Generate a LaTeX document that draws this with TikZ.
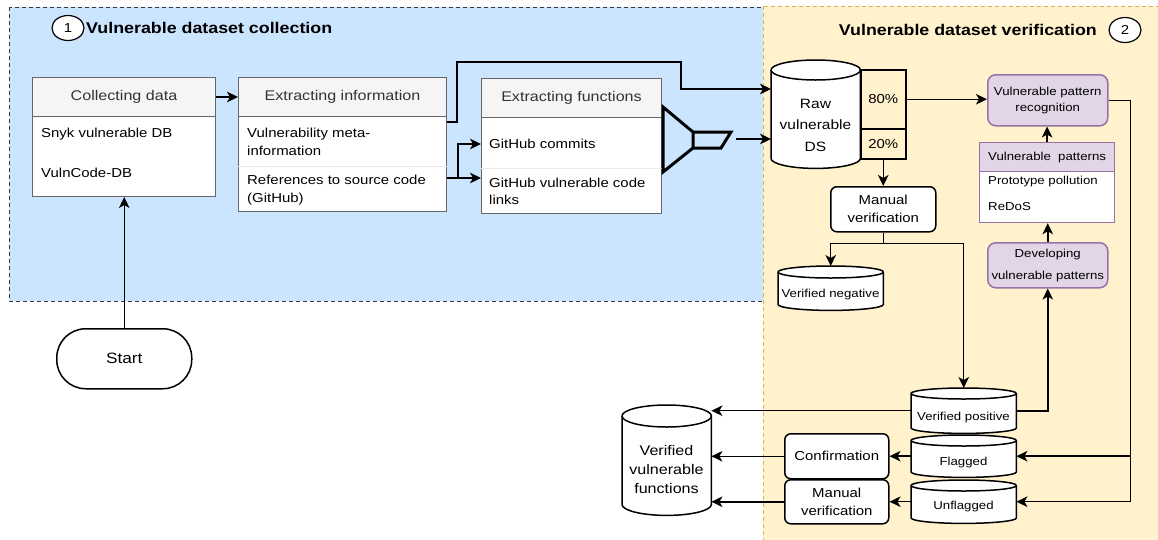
\documentclass[tikz,border=0pt]{standalone}
\usepackage{fontspec}
\setmainfont{Liberation Sans}[FakeStretch=1.15]
\usetikzlibrary{arrows.meta,calc,shapes.geometric}
\definecolor{bluefill}{HTML}{CCE5FF}
\definecolor{blueline}{HTML}{36393D}
\definecolor{yelfill}{HTML}{FFF2CC}
\definecolor{yelline}{HTML}{D6B656}
\definecolor{purfill}{HTML}{E1D5E7}
\definecolor{purline}{HTML}{9673A6}
\definecolor{hdrfill}{HTML}{F5F5F5}
\definecolor{hdrline}{HTML}{666666}
\definecolor{hdrtext}{HTML}{333333}
\definecolor{sepline}{HTML}{EAEAEA}
\pgfdeclarelayer{bglayer}
\pgfdeclarelayer{cyllayer}
\pgfsetlayers{bglayer,cyllayer,main}
\newcommand\myfH{\fontsize{14}{17}\selectfont}
\newcommand\myfB{\fontsize{13}{18}\selectfont}
\newcommand\myfS{\fontsize{11.5}{16}\selectfont}
\newcommand\myfT{\bfseries\fontsize{15.5}{19}\selectfont}
\newcommand\cylout[2]{%
 \begin{pgfonlayer}{cyllayer}
 \draw[cylline] let \p1=(#1.north west), \p2=(#1.south east), \n1={(\x2-\x1)/2} in
  (\x1,\y1-#2) -- (\x1,\y2+#2) arc[start angle=180,end angle=360,x radius={\n1*1pt},y radius=#2]
  -- (\x2,\y1-#2) arc[start angle=0,end angle=180,x radius={\n1*1pt},y radius=#2] -- cycle;
 \draw[cylline,fill=none] let \p1=(#1.north west), \p2=(#1.south east), \n1={(\x2-\x1)/2} in
  (\x1,\y1-#2) arc[start angle=180,end angle=360,x radius={\n1*1pt},y radius=#2];
 \end{pgfonlayer}}
\tikzset{
 every node/.style={inner sep=0pt},
 cylline/.style={draw=black,fill=white,line width=1.5pt},
 cylnode/.style={draw=none,anchor=north west},
 hdr/.style={draw=hdrline,fill=hdrfill,line width=1pt,text=hdrtext,font=\myfH,anchor=north west},
 bodyb/.style={draw=hdrline,fill=white,line width=1pt,anchor=north west},
 row/.style={anchor=west,align=left,font=\myfB},
 rbox/.style={draw=black,fill=white,rounded corners=6pt,line width=1.5pt,align=center,anchor=north west,font=\myfB},
 purbox/.style={draw=purline,fill=purfill,rounded corners=8pt,line width=1.5pt,align=center,anchor=north west,font=\myfS},
 pbox/.style={draw=black,line width=1.5pt,anchor=north west,font=\myfB},
 arr/.style={-{Stealth[length=11pt,width=10.5pt,inset=3pt]},line width=1.5pt},
 ln/.style={line width=1.5pt},
 sepl/.style={draw=sepline,line width=0.8pt},
 numc/.style={ellipse,draw=black,fill=white,line width=1.2pt,minimum width=32pt,minimum height=25pt,font=\myfB},
}
\begin{document}
\begin{tikzpicture}[x=1pt,y=-1pt]
\useasboundingbox (0,0) rectangle (1158,539);
\begin{pgfonlayer}{bglayer}
 \fill[white] (0,0) rectangle (1158,539);
 \draw[fill=bluefill,draw=blueline,dash pattern=on 4pt off 3pt,line width=1pt] (9,7) rectangle (763,301);
 \draw[fill=yelfill,draw=yelline,dash pattern=on 4pt off 3pt,line width=1pt] (763,6) rectangle (1170,550);
\end{pgfonlayer}

% titles
\node[numc] (c1) at (68,28) {1};
\node[anchor=west,font=\myfT] (t1) at (86,28) {Vulnerable dataset collection};
\node[anchor=east,font=\myfT] (t2) at (1097,30) {Vulnerable dataset verification};
\node[numc] (c2) at (1125,30) {2};

% Collecting data
\node[hdr,minimum width=183,minimum height=39] (cd) at (32,77) {Collecting data};
\node[bodyb,minimum width=183,minimum height=80] (cdb) at (32,116) {};
\node[row] (cd1) at (41,134) {Snyk vulnerable DB};
\node[row] (cd2) at (41,173) {VulnCode-DB};

% Extracting information
\node[hdr,minimum width=208,minimum height=39] (ei) at (238,77) {Extracting information};
\node[bodyb,minimum width=208,minimum height=95] (eib) at (238,116) {};
\draw[sepl] (eib.west |- 0,166) -- (eib.east |- 0,166);
\node[row] (ei1) at (247,142) {Vulnerability meta-\\information};
\node[row] (ei2) at (247,190) {References to source code\\(GitHub)};

% Extracting functions
\node[hdr,minimum width=180,minimum height=39] (ef) at (481,78) {Extracting functions};
\node[bodyb,minimum width=180,minimum height=96] (efb) at (481,117) {};
\draw[sepl] (efb.west |- 0,168) -- (efb.east |- 0,168);
\node[row] (ef1) at (489,144) {GitHub commits};
\node[row,font={\fontsize{13}{17}\selectfont}] (ef2) at (489,191) {GitHub vulnerable code\\links};

% funnel
\draw[line width=3pt,line join=miter] (663,107) -- (693,132) -- (693,148) -- (663,172) -- cycle;
\draw[line width=3pt,line join=miter] (693,132) -- (731,132) -- (721,148) -- (693,148);
\coordinate (fout) at (736,139);

% Start
\node[draw=black,fill=white,line width=1.5pt,rounded corners=29pt,minimum width=135,minimum height=60,anchor=north west,font=\fontsize{15}{18}\selectfont] (start) at (56,328) {Start};

% Raw DS
\node[cylnode,minimum width=89,minimum height=108] (raw) at (771,60) {};
\cylout{raw}{10pt}
\node[align=center,font={\fontsize{13.5}{21.5}\selectfont}] (rawt) at (815.5,125) {Raw\\vulnerable\\DS};
\node[pbox,minimum width=45,minimum height=59] (p80) at (860,69) {80\%};
\node[pbox,minimum width=45,minimum height=30] (p20) at (860,128) {20\%};

% Patterns column
\node[purbox,minimum width=120,minimum height=51] (vpr) at (987,74) {Vulnerable pattern\\recognition};
\node[draw=purline,fill=purfill,line width=1.2pt,minimum width=135,minimum height=29,anchor=north west,font=\myfS] (vph) at (979,142) {Vulnerable\ \ patterns};
\node[draw=purline,fill=white,line width=1.2pt,minimum width=135,minimum height=51,anchor=north west] (vpb) at (979,171) {};
\node[row,font=\myfS] (vp1) at (988,182) {Prototype pollution};
\node[row,font=\myfS] (vp2) at (988,207) {ReDoS};
\node[purbox,minimum width=120,minimum height=45,font={\fontsize{11.5}{22}\selectfont}] (dev) at (987,242) {Developing\\vulnerable patterns};

% manual verification 1
\node[rbox,minimum width=105,minimum height=45] (mv1) at (830,186) {Manual\\verification};

% cylinders
\node[cylnode,minimum width=105,minimum height=44] (vn) at (778,266) {};
\cylout{vn}{6pt}
\node[font=\myfS] (vnt) at (830.5,295) {Verified negative};
\node[cylnode,minimum width=105,minimum height=45] (vp) at (911,388) {};
\cylout{vp}{5.5pt}
\node[font=\myfS] (vpt) at (963.5,418) {Verified positive};
\node[cylnode,minimum width=105,minimum height=42] (flg) at (911,435) {};
\cylout{flg}{5.5pt}
\node[font=\myfS] (flgt) at (963.5,463) {Flagged};
\node[cylnode,minimum width=105,minimum height=43] (unf) at (911,480) {};
\cylout{unf}{5.5pt}
\node[font=\myfS] (unft) at (963.5,507) {Unflagged};
\node[cylnode,minimum width=89,minimum height=110] (vvf) at (622,405) {};
\cylout{vvf}{11pt}
\node[align=center,font={\fontsize{14}{19}\selectfont}] (vvft) at (666.5,469) {Verified\\vulnerable\\functions};

\node[rbox,minimum width=104,minimum height=45] (conf) at (784,433) {Confirmation};
\node[rbox,minimum width=104,minimum height=44,font={\fontsize{13}{17.5}\selectfont}] (mv2) at (784,479) {Manual\\verification};

% connectors left
\draw[arr] (start.north) -- (start.north |- cdb.south);
\draw[arr] (cd.east) -- (cd.east -| ei.west);
\draw[arr] ($(eib.north east)+(0,6)$) -- ++(10,0) |- (681,62) |- (raw.west |- 0,89);
\draw[arr] ($(eib.north east)+(0,62)$) -- (efb.west |- 0,178);
\draw[arr] ($(eib.north east)+(0,62)$) -- ++(11,0) |- (efb.west |- ef1);
\draw[arr] (fout) -- (raw.west |- fout);

% connectors right
\draw[arr] (p80.east) -- (p80.east -| vpr.west);
\draw[arr] (vph.north) -- (vph.north |- vpr.south);
\draw[arr] (dev.north) -- (dev.north |- vpb.south);
\draw[arr] (p20.south) -- (p20.south |- mv1.north);
\draw[ln] (mv1.south) -- ++(0,11) coordinate (mvj);
\draw[arr] (mvj) -| (vn.north);
\draw[arr] (mvj) -| (vp.north);
\draw[arr] (vp.east |- 0,411) -| (dev.south);
\draw[arr] (vpr.east) -- ++(22,0) coordinate (rt) |- (unf.east);
\draw[arr] (rt |- flg.east) -- (flg.east);
\draw[arr] (vp.west) -- (vp.west -| vvf.east);
\draw[arr] (flg.west) -- (flg.west -| conf.east);
\draw[arr] (conf.west) -- (conf.west -| vvf.east);
\draw[arr] (unf.west) -- (unf.west -| mv2.east);
\draw[arr] (mv2.west) -- (mv2.west -| vvf.east);
\end{tikzpicture}
\end{document}
